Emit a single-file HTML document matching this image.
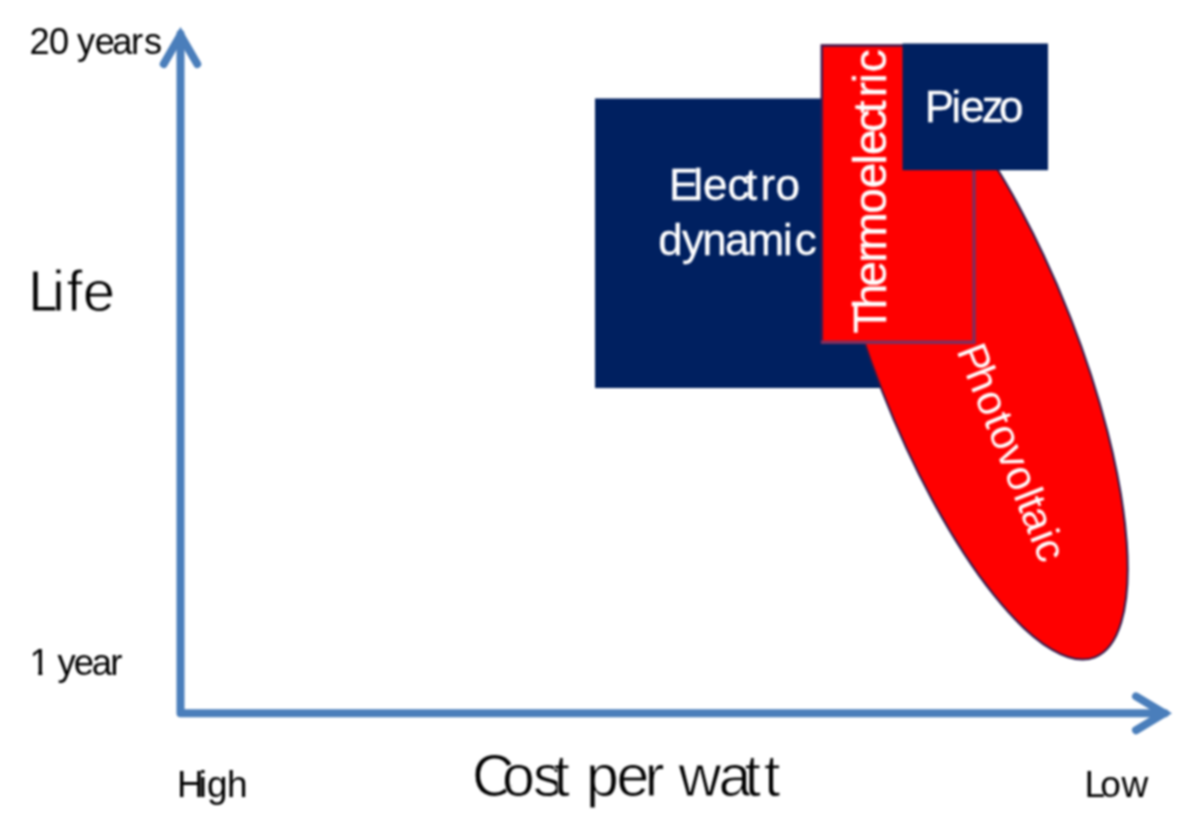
<!DOCTYPE html>
<html lang="en">
<head>
<meta charset="utf-8">
<title>Energy harvesting: life vs cost per watt</title>
<style>
  html, body { margin: 0; padding: 0; background: #ffffff; }
  body { width: 1200px; height: 833px; overflow: hidden; }
  svg { display: block; filter: blur(0.9px); }
  text { font-family: "Liberation Sans", Arial, Helvetica, sans-serif; }
  .blk { fill: #000000; }
  .big { stroke: #ffffff; stroke-width: 0.9px; }
  .wht { fill: #ffffff; stroke: #ffffff; stroke-width: 0.35px; }
</style>
</head>
<body>
<svg width="1200" height="833" viewBox="0 0 1200 833">
  <rect x="0" y="0" width="1200" height="833" fill="#ffffff"/>

  <!-- axes -->
  <g fill="none" stroke="#4a7ebb" stroke-width="8" stroke-linecap="round">
    <path d="M180.5 34 L180.5 713.3 L1165 713.3" stroke-linejoin="round"/>
    <path d="M163.75 64 L180.5 34.9 L197.25 64" stroke-linejoin="miter" stroke-miterlimit="10"/>
    <path d="M1136 696.4 L1164.2 713.3 L1136 730.2" stroke-linejoin="miter" stroke-miterlimit="10"/>
  </g>

  <!-- Electro dynamic box -->
  <rect x="595" y="98.5" width="290" height="289.5" fill="#002060"/>

  <!-- Photovoltaic ellipse -->
  <g transform="translate(976.4 354.6) rotate(68.63)">
    <ellipse cx="0" cy="0" rx="325.1" ry="101.1" fill="#ff0000" stroke="#2a1a4e" stroke-width="2"/>
  </g>

  <!-- Thermoelectric box -->
  <rect x="821" y="44.6" width="154.2" height="298.8" fill="#ff0000"/>
  <path d="M821.8 343.4 L821.8 45.5 L975.2 45.5" fill="none" stroke="#3c1a52" stroke-width="2.5"/>
  <path d="M974 44.6 L974 342.2 L821 342.2" fill="none" stroke="#7e2f5e" stroke-width="3.4"/>

  <!-- Piezo box -->
  <rect x="902.5" y="43.5" width="145.5" height="126.7" fill="#002060"/>

  <!-- labels inside shapes -->
  <text class="wht" font-size="44" y="200" x="669.0 693.3 703.0 727.5 745.0 760.5 775.5">Electro</text>
  <text class="wht" font-size="44" y="254.5" x="658.3 682.1 702.3 725.1 747.6 783.1 794.8">dynamic</text>
  <text class="wht" font-size="44" y="121.5" x="924.8 951.2 960.3 981.7 999.0">Piezo</text>
  <text class="wht" transform="translate(886 332) rotate(-90)" font-size="46" x="-1.3 22.8 45.2 69.3 81.6 118.2 143.7 167.6 177 199.8 218.8 234.8 248.8 259.8">Thermoelectric</text>
  <text class="wht" stroke-width="0" style="stroke-width:0" transform="translate(957.7 354) rotate(68.5)" font-size="42" x="-3.9 20.8 45.6 70 82.5 105 126.5 151.5 160.5 171 196.1 205.2">Photovoltaic</text>

  <!-- axis labels -->
  <defs>
    <clipPath id="nofoot">
      <rect x="0" y="630" width="200" height="42.1"/>
      <rect x="38.3" y="672" width="4" height="4"/>
      <rect x="50" y="672" width="150" height="30"/>
    </clipPath>
  </defs>
  <text class="blk" font-size="36.2" y="53.5" x="29.6 48.9 69.0 76.9 94.7 112.2 131.0 143.9">20 years</text>
  <text class="blk big" font-size="58" y="310.5" x="27.9 52.1 66.4 82.7">Life</text>
  <text class="blk" clip-path="url(#nofoot)" font-size="36.5" y="675" x="29.5 49.8 57.5 73.8 91.7 110.2">1 year</text>
  <text class="blk" font-size="37" y="796.5" x="177.0 198.8 207.1 226.9">High</text>
  <text class="blk big" font-size="59" y="796" x="472.0 502.1 532.9 553.5 569.6 585.9 616.5 644.7 664.0 678.6 718.5 744.6 764.1">Cost per watt</text>
  <text class="blk" font-size="37" y="796.5" x="1084.6 1100.3 1121.4">Low</text>
</svg>
</body>
</html>
